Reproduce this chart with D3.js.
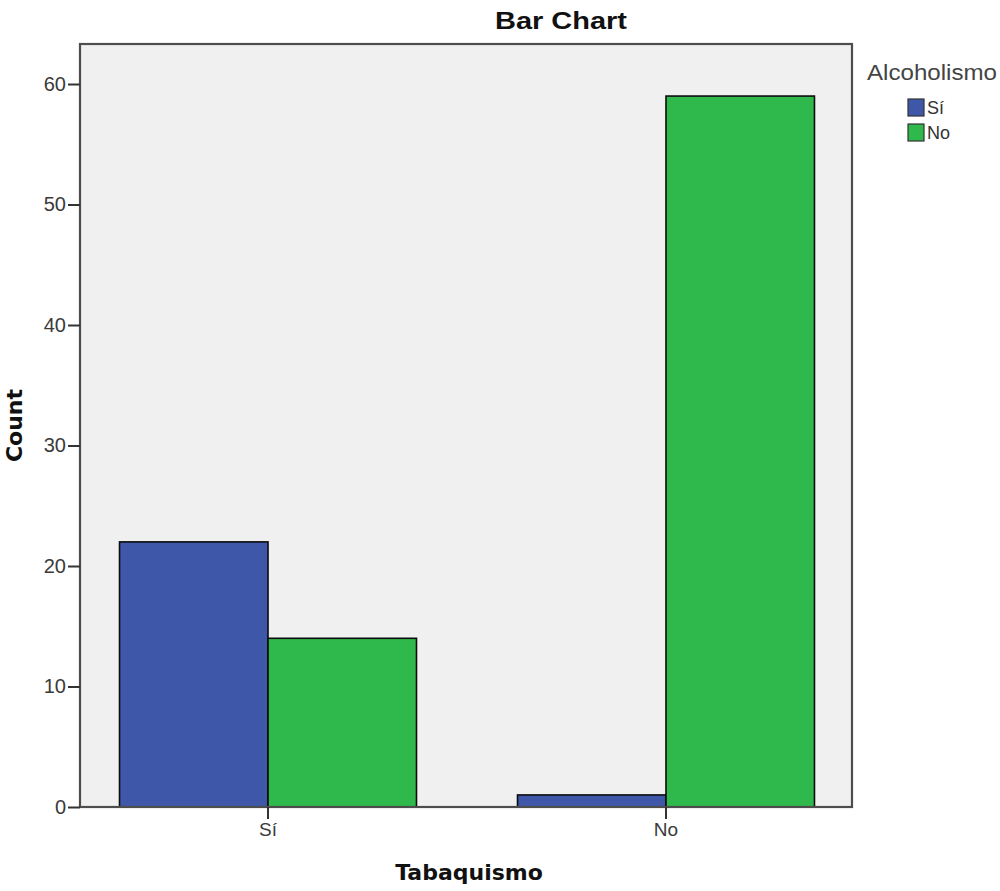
<!DOCTYPE html>
<html>
<head>
<meta charset="utf-8">
<script src="https://cdn.jsdelivr.net/npm/d3@7"></script>
<style>
  html, body { margin: 0; padding: 0; background: #ffffff; }
  svg { display: block; }
</style>
</head>
<body>
<svg id="chart" width="1000" height="891"></svg>
<script>
// Smoking (Tabaquismo) groups on the x axis, alcohol use (Alcoholismo) as series
const categories = ["Sí", "No"];
const seriesNames = ["Sí", "No"];
const countsAlcoholSi = [22, 1];
const countsAlcoholNo = [14, 59];
const yTicks = [0, 10, 20, 30, 40, 50, 60];
const seriesColors = ["#3f57a9", "#2fb84b"];

const rows = categories.map((c, i) => ({
  category: c,
  values: [countsAlcoholSi[i], countsAlcoholNo[i]]
}));

const svg = d3.select("#chart");
const plot = { left: 80, top: 44, right: 852, bottom: 807 };

const x = d3.scaleBand()
  .domain(categories)
  .range([plot.left, plot.right])
  .paddingInner(0.2538)
  .paddingOuter(0.0968)
  .align(0.513);

const xSub = d3.scaleBand()
  .domain(seriesNames)
  .range([0, x.bandwidth()])
  .padding(0);

const y = d3.scaleLinear()
  .domain([0, 63.32])
  .range([plot.bottom, plot.top]);

const color = d3.scaleOrdinal().domain(seriesNames).range(seriesColors);

// plot background
svg.append("rect")
  .attr("x", plot.left).attr("y", plot.top)
  .attr("width", plot.right - plot.left)
  .attr("height", plot.bottom - plot.top)
  .attr("fill", "#f0f0f0");

// bars
const groups = svg.append("g").selectAll("g")
  .data(rows)
  .join("g")
  .attr("transform", d => `translate(${x(d.category)},0)`);

groups.selectAll("rect")
  .data(d => d.values.map((v, j) => ({ series: seriesNames[j], value: v })))
  .join("rect")
  .attr("x", d => xSub(d.series))
  .attr("y", d => y(d.value))
  .attr("width", xSub.bandwidth())
  .attr("height", d => y(0) - y(d.value))
  .attr("fill", d => color(d.series))
  .attr("stroke", "#0c0c0c")
  .attr("stroke-width", 1.6);

// frame
svg.append("rect")
  .attr("x", plot.left).attr("y", plot.top)
  .attr("width", plot.right - plot.left)
  .attr("height", plot.bottom - plot.top)
  .attr("fill", "none")
  .attr("stroke", "#4d4d4d")
  .attr("stroke-width", 2.2);

// y axis
const yAxis = svg.append("g")
  .attr("transform", `translate(${plot.left},0)`)
  .call(d3.axisLeft(y).tickValues(yTicks).tickSize(12).tickPadding(2).tickFormat(d3.format("d")));
yAxis.select(".domain").remove();
yAxis.selectAll(".tick line").attr("stroke", "#333").attr("stroke-width", 2);
yAxis.selectAll(".tick text")
  .attr("fill", "#3a3a3a")
  .style("font-family", "'Liberation Sans', Arial, sans-serif")
  .style("font-size", "20px");

// x axis
const xAxis = svg.append("g")
  .attr("transform", `translate(0,${plot.bottom})`)
  .call(d3.axisBottom(x).tickSize(12).tickPadding(4));
xAxis.select(".domain").remove();
xAxis.selectAll(".tick line").attr("stroke", "#333").attr("stroke-width", 2);
xAxis.selectAll(".tick text")
  .attr("fill", "#3a3a3a")
  .style("font-family", "'Liberation Sans', Arial, sans-serif")
  .style("font-size", "19px");

// title
svg.append("text")
  .attr("x", 561).attr("y", 29)
  .attr("text-anchor", "middle")
  .attr("textLength", 132)
  .attr("lengthAdjust", "spacingAndGlyphs")
  .style("font-family", "'Liberation Sans', Arial, sans-serif")
  .style("font-weight", "bold")
  .style("font-size", "24px")
  .attr("fill", "#111")
  .text("Bar Chart");

// axis titles
svg.append("text")
  .attr("transform", `translate(22,${(388 + 463) / 2}) rotate(-90)`)
  .attr("text-anchor", "middle")
  .style("font-family", "'DejaVu Sans', Verdana, sans-serif")
  .style("font-weight", "bold")
  .style("font-size", "22px")
  .attr("fill", "#111")
  .text("Count");

svg.append("text")
  .attr("x", (plot.left + plot.right) / 2 + 3).attr("y", 880)
  .attr("text-anchor", "middle")
  .style("font-family", "'DejaVu Sans', Verdana, sans-serif")
  .style("font-weight", "bold")
  .style("font-size", "22px")
  .attr("fill", "#111")
  .text("Tabaquismo");

// legend
const legend = svg.append("g");
legend.append("text")
  .attr("x", 867).attr("y", 80)
  .attr("textLength", 130)
  .attr("lengthAdjust", "spacingAndGlyphs")
  .style("font-family", "'Liberation Sans', Arial, sans-serif")
  .style("font-size", "22px")
  .attr("fill", "#444")
  .text("Alcoholismo");

const items = legend.selectAll("g.item")
  .data(seriesNames)
  .join("g")
  .attr("class", "item")
  .attr("transform", (d, i) => `translate(908,${99 + i * 25})`);

items.append("rect")
  .attr("width", 16).attr("height", 17)
  .attr("fill", d => color(d))
  .attr("stroke", "#333")
  .attr("stroke-width", 1.2);

items.append("text")
  .attr("x", 19).attr("y", 15)
  .style("font-family", "'Liberation Sans', Arial, sans-serif")
  .style("font-size", "18px")
  .attr("fill", "#333")
  .text(d => d);
</script>
</body>
</html>
